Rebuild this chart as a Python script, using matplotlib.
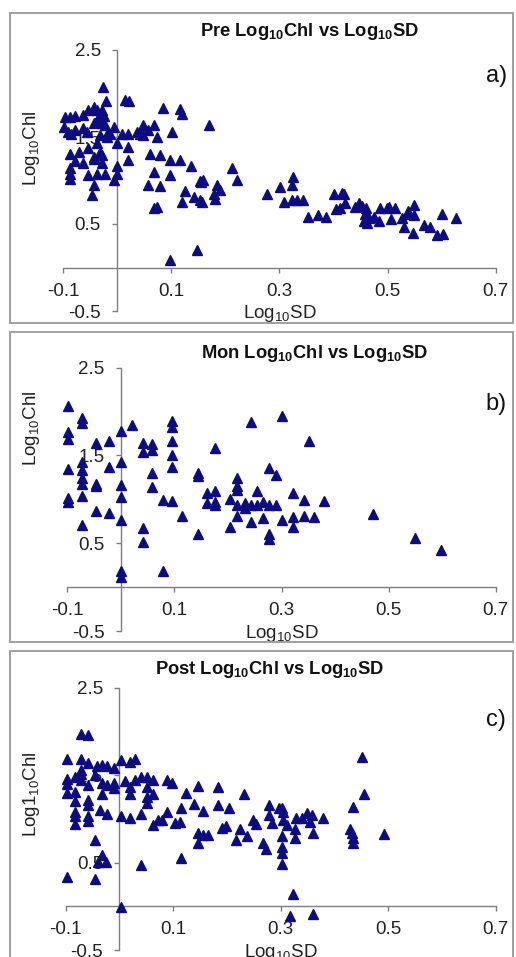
import matplotlib
matplotlib.use("Agg")
import matplotlib.pyplot as plt
from matplotlib.patches import Rectangle

plt.rcParams["font.family"] = ["Liberation Sans", "DejaVu Sans"]
plt.rcParams["mathtext.fontset"] = "custom"
plt.rcParams["mathtext.rm"] = "Liberation Sans"
plt.rcParams["mathtext.it"] = "Liberation Sans:italic"
plt.rcParams["mathtext.bf"] = "Liberation Sans:bold"

# ---- data ----
pre_sd = [-0.026, -0.021, 0.014, 0.022, 0.085, 0.115, 0.119, 0.170,
          -0.097, -0.088, -0.078, -0.063, -0.054, -0.044, -0.037, -0.029, -0.032, -0.025,
          -0.098, -0.091, -0.085, -0.078, -0.063, -0.056, -0.043, -0.038, -0.029, -0.023, -0.017, -0.007,
          -0.032, -0.020, -0.014, -0.001, 0.008, 0.020, 0.020, 0.036, 0.042, 0.048, 0.048, 0.057, 0.067, 0.073, 0.102,
          -0.088, -0.071, -0.054, -0.038, -0.032, -0.043, -0.029,
          -0.078, -0.063, -0.044, -0.029, -0.001, 0.020,
          -0.088, -0.088, -0.088, -0.054, -0.038, -0.023, -0.007, -0.001,
          -0.044, -0.046,
          0.060, 0.079, 0.098, 0.115, 0.067, 0.098, 0.136,
          0.057, 0.079, 0.125, 0.153, 0.159, 0.155, 0.184, 0.190,
          0.068, 0.074, 0.119, 0.141, 0.153, 0.156, 0.178, 0.181,
          0.213, 0.221, 0.098, 0.147,
          0.277, 0.301, 0.325, 0.323, 0.309, 0.323, 0.333, 0.343,
          0.352, 0.372, 0.386,
          0.400, 0.415, 0.420, 0.422, 0.404, 0.412,
          0.440, 0.448, 0.452, 0.460, 0.459, 0.457, 0.462, 0.465, 0.474, 0.485,
          0.486, 0.499, 0.502, 0.514, 0.506, 0.527, 0.531, 0.536, 0.537, 0.548, 0.549, 0.547,
          0.567, 0.579, 0.591, 0.601, 0.602, 0.627]
pre_chl = [2.07, 1.91, 1.925, 1.91, 1.83, 1.82, 1.76, 1.64,
           1.73, 1.73, 1.74, 1.75, 1.81, 1.85, 1.81, 1.81, 1.75, 1.74,
           1.61, 1.56, 1.54, 1.58, 1.60, 1.56, 1.66, 1.70, 1.66, 1.64, 1.56, 1.62,
           1.52, 1.50, 1.54, 1.43, 1.54, 1.54, 1.39, 1.56, 1.54, 1.64, 1.52, 1.58, 1.64, 1.50, 1.56,
           1.31, 1.33, 1.37, 1.43, 1.33, 1.27, 1.29,
           1.22, 1.20, 1.25, 1.20, 1.17, 1.24,
           1.14, 1.08, 1.02, 1.06, 1.08, 1.07, 1.01, 1.08,
           0.95, 0.83,
           1.31, 1.29, 1.24, 1.24, 1.10, 1.06, 1.17,
           0.95, 0.94, 0.88, 0.99, 1.01, 0.98, 0.95, 0.89,
           0.68, 0.70, 0.75, 0.81, 0.78, 0.75, 0.85, 0.79,
           1.14, 1.01, 0.086, 0.20,
           0.85, 0.92, 1.04, 0.95, 0.75, 0.78, 0.78, 0.78,
           0.58, 0.60, 0.58,
           0.85, 0.86, 0.84, 0.74, 0.67, 0.68,
           0.70, 0.74, 0.71, 0.68, 0.62, 0.53, 0.51, 0.57, 0.58, 0.54,
           0.68, 0.68, 0.69, 0.68, 0.56, 0.57, 0.46, 0.62, 0.65, 0.72, 0.60, 0.40,
           0.49, 0.47, 0.37, 0.62, 0.39, 0.57]

mon_sd = [-0.098, -0.098, -0.098, -0.098, -0.098, -0.098,
          -0.073, -0.073, -0.073, -0.073, -0.073, -0.073, -0.073, -0.073,
          -0.047, -0.047, -0.047, -0.047,
          -0.023, -0.023, -0.023,
          0.000, 0.000, 0.000, 0.000, 0.000, 0.000, 0.000,
          0.020,
          0.041, 0.041, 0.041, 0.041,
          0.059, 0.059, 0.059, 0.059,
          0.078, 0.078,
          0.096, 0.096, 0.096, 0.096, 0.096, 0.096,
          0.114,
          0.145, 0.145, 0.145,
          0.160, 0.160,
          0.176, 0.176, 0.176, 0.176,
          0.203, 0.203,
          0.216, 0.216, 0.216, 0.216, 0.216,
          0.231, 0.231,
          0.243, 0.243, 0.243,
          0.254, 0.254,
          0.266, 0.266,
          0.277, 0.277, 0.277, 0.277,
          0.290, 0.290,
          0.300, 0.300,
          0.322, 0.322, 0.322,
          0.342, 0.342,
          0.351, 0.361, 0.380, 0.470, 0.549, 0.597]
mon_chl = [2.06, 1.77, 1.69, 1.35, 1.02, 0.97,
           1.93, 1.87, 1.43, 1.34, 1.24, 1.18, 1.04, 0.71,
           1.64, 1.17, 1.15, 0.87,
           1.66, 1.37, 0.85,
           1.78, 1.43, 1.16, 1.03, 0.77, 0.18, 0.12,
           1.85,
           1.64, 1.54, 0.67, 0.51,
           1.63, 1.56, 1.30, 1.14,
           0.99, 0.18,
           1.89, 1.83, 1.66, 1.51, 1.37, 0.98,
           0.81,
           1.30, 1.27, 0.60,
           1.07, 0.96,
           1.59, 1.10, 0.97, 0.93,
           1.00, 0.68,
           1.24, 1.15, 1.11, 0.94, 0.81,
           0.96, 0.90,
           1.88, 0.93, 0.74,
           1.09, 0.93,
           0.97, 0.79,
           1.36, 0.94, 0.60, 0.55,
           1.28, 0.94,
           1.95, 0.77,
           1.07, 0.80, 0.69,
           0.99, 0.81,
           1.66, 0.80, 0.98, 0.83, 0.56, 0.42]

post_sd = [-0.071, -0.058, -0.097, -0.097, -0.097, -0.097, -0.097,
           -0.083, -0.083, -0.083, -0.083, -0.083, -0.083,
           -0.071, -0.071, -0.071, -0.071,
           -0.058, -0.058, -0.058, -0.058, -0.058, -0.058,
           -0.045, -0.045, -0.045,
           -0.042, -0.033, -0.024, -0.011,
           -0.033, -0.025, -0.039,
           -0.033, -0.024, -0.033, -0.036, -0.024, -0.011, -0.011,
           0.002, 0.002, 0.002, 0.010, 0.020, 0.029,
           0.020, 0.020, 0.020, 0.029,
           0.041, 0.051, 0.063, 0.051, 0.051, 0.051, 0.062,
           0.041, 0.041, 0.062, 0.072, 0.079, 0.088, 0.088, 0.097,
           0.103, 0.113, 0.114, 0.114, 0.123, 0.138, 0.147,
           0.147, 0.147, 0.156, 0.164, 0.155,
           0.184, 0.184, 0.190, 0.198, 0.204, 0.217, 0.224, 0.231, 0.237,
           0.249, 0.254, 0.267, 0.273,
           0.279, 0.279, 0.283, 0.296, 0.302, 0.304,
           0.302, 0.302, 0.302, 0.302, 0.305, 0.311,
           0.322, 0.317, 0.327, 0.327, 0.329, 0.339,
           0.348, 0.358, 0.355, 0.361, 0.361, 0.379,
           0.429, 0.432, 0.435, 0.435, 0.435, 0.451, 0.455, 0.492]
post_chl = [1.97, 1.96, 1.69, 1.46, 1.40, 1.30, 0.34,
            1.48, 1.31, 1.21, 1.08, 1.03, 0.94,
            1.69, 1.56, 1.51, 1.45,
            1.64, 1.39, 1.22, 1.16, 1.03, 0.98,
            0.76, 0.31, 1.50,
            1.60, 1.62, 1.61, 1.58,
            0.59, 0.51, 0.51,
            1.41, 1.39, 1.29, 1.10, 1.06, 1.41, 1.35,
            1.67, 1.03, -0.01, 1.43, 1.65, 1.69,
            1.37, 1.29, 1.01, 1.45,
            1.48, 1.48, 1.44, 1.37, 1.25, 1.18, 1.28,
            1.06, 0.47, 0.93, 0.99, 0.99, 1.08, 1.45, 1.41,
            0.95, 0.96, 1.12, 0.55, 1.30, 1.17, 1.38,
            0.84, 0.72, 0.82, 0.82, 1.09,
            1.36, 1.16, 0.90, 0.92, 1.12, 0.76, 0.88, 1.28, 0.80,
            0.99, 0.94, 0.73, 0.66,
            1.16, 1.04, 0.95, 1.12, 1.12, 1.08,
            0.80, 0.68, 0.61, 0.48, 0.99, 0.93,
            0.14, -0.11, 0.89, 0.78, 1.01, 1.01,
            1.07, 1.04, 0.97, 0.84, -0.09, 1.01,
            0.89, 0.84, 0.78, 0.72, 1.14, 1.71, 1.29, 0.83]

titles = [r"Pre Log$_\mathbf{10}$Chl vs Log$_\mathbf{10}$SD",
          r"Mon Log$_\mathbf{10}$Chl vs Log$_\mathbf{10}$SD",
          r"Post Log$_\mathbf{10}$Chl vs Log$_\mathbf{10}$SD"]
ylabels = [r"Log$_{10}$Chl", r"Log$_{10}$Chl", r"Log1$_{10}$Chl"]
tags = ["a)", "b)", "c)"]
xticks = [-0.1, 0.1, 0.3, 0.5, 0.7]
yticks = [-0.5, 0.5, 1.5, 2.5]

W, H = 516, 957
fig = plt.figure(figsize=(W / 100, H / 100), dpi=100)


def px_rect(x0, y0, x1, y1):
    # pixel box (top-left origin) -> figure fraction [l, b, w, h]
    return [x0 / W, 1 - y1 / H, (x1 - x0) / W, (y1 - y0) / H]


# layout in pixels: plot box, chart border, title centre, tag centre, ylabel pos (data)
layout = [
    dict(box=(63.3, 50, 495.7, 311), border=(10, 12.7, 513, 322.5),
         title=(310, 32), tag=(497, 76), ylab=(-0.158, 1.37)),
    dict(box=(67.3, 367.7, 495.7, 631), border=(10, 331.7, 513, 641.5),
         title=(315, 353), tag=(496, 404), ylab=(-0.166, 1.81)),
    dict(box=(65.7, 687.7, 495.7, 950.2), border=(10, 651, 513, 980),
         title=(270, 670), tag=(496, 720), ylab=(-0.163, 1.285)),
]
series = [(pre_sd, pre_chl), (mon_sd, mon_chl), (post_sd, post_chl)]

for i, (sd, chl) in enumerate(series):
    lay = layout[i]
    bx0, by0, bx1, by1 = lay["border"]
    fig.patches.append(Rectangle((bx0 / W, 1 - by1 / H), (bx1 - bx0) / W, (by1 - by0) / H,
                                 transform=fig.transFigure, fill=False,
                                 edgecolor="#a0a0a0", linewidth=1.4))

    ax = fig.add_axes(px_rect(*lay["box"]))
    ax.set_xlim(-0.1, 0.7)
    ax.set_ylim(-0.5, 2.5)
    ax.patch.set_alpha(0)
    for s in ["top", "right"]:
        ax.spines[s].set_visible(False)
    for s in ["left", "bottom"]:
        ax.spines[s].set_position(("data", 0))
        ax.spines[s].set_color("#7f7f7f")
        ax.spines[s].set_linewidth(1.0)
    ax.set_xticks(xticks)
    ax.set_yticks(yticks)
    ax.set_xticklabels([f"{v:g}" for v in xticks])
    ax.set_yticklabels([f"{v:g}" for v in yticks])
    ax.tick_params(direction="out", length=3.8, width=1.0, color="#7f7f7f",
                   labelsize=13.5, labelcolor="#222222")
    ax.tick_params(axis="y", pad=8)
    ax.tick_params(axis="x", pad=7)

    ax.plot(sd, chl, linestyle="none", marker="^", markersize=6.8,
            color="#0c0c80", markeredgecolor="#0c0c80", clip_on=False, zorder=3)

    ax.text(0.3, -0.53, r"Log$_{10}$SD", ha="center", va="center",
            fontsize=13.5, color="#222222")
    ax.text(lay["ylab"][0], lay["ylab"][1], ylabels[i], rotation=90,
            ha="center", va="center", fontsize=13.5, color="#222222", clip_on=False)

    fig.text(lay["title"][0] / W, 1 - lay["title"][1] / H, titles[i],
             ha="center", va="center", fontsize=13.2, fontweight="bold", color="#111111")
    fig.text(lay["tag"][0] / W, 1 - lay["tag"][1] / H, tags[i],
             ha="center", va="center", fontsize=17, color="#111111")

fig.savefig("out.png", dpi=100)
